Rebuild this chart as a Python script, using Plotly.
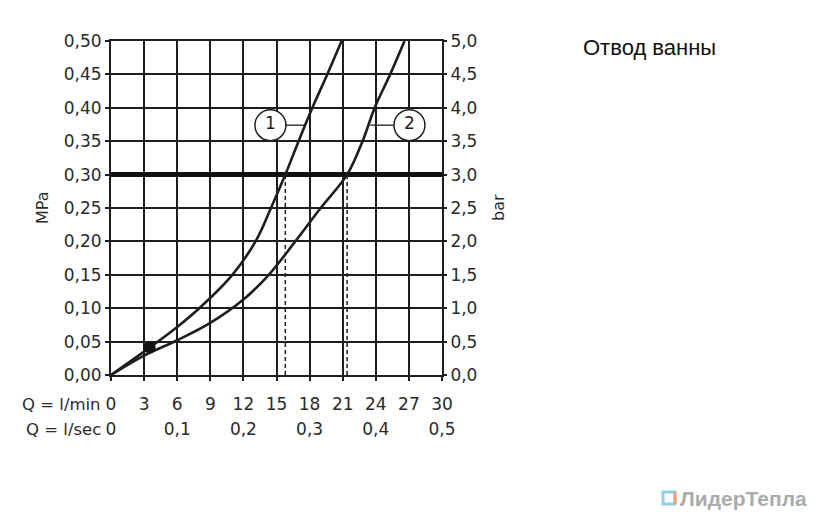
import plotly.graph_objects as go

# ---- data ----
q_lmin_ticks = [0, 3, 6, 9, 12, 15, 18, 21, 24, 27, 30]
q_lsec_ticks = [0, 0.1, 0.2, 0.3, 0.4, 0.5]
q_lsec_labels = ["0", "0,1", "0,2", "0,3", "0,4", "0,5"]
mpa_ticks = [0, 0.05, 0.10, 0.15, 0.20, 0.25, 0.30, 0.35, 0.40, 0.45, 0.50]
bar_ticks = [0, 0.5, 1.0, 1.5, 2.0, 2.5, 3.0, 3.5, 4.0, 4.5, 5.0]

curve1_q = [0, 3.5, 6.0, 8.0, 11.0, 13.1, 14.5, 15.8, 17.0, 18.25, 19.6, 20.9]
curve1_p = [0, 0.041, 0.072, 0.100, 0.150, 0.200, 0.250, 0.300, 0.350, 0.400, 0.450, 0.500]

curve2_q = [0, 3.0, 6.0, 9.0, 12.0, 14.3, 16.7, 19.0, 21.4, 22.8, 23.9, 25.3, 26.6]
curve2_p = [0, 0.029, 0.052, 0.078, 0.113, 0.150, 0.200, 0.250, 0.300, 0.350, 0.400, 0.450, 0.500]

ref_pressure = 0.30
ref_flows = [15.8, 21.4]
dot_q, dot_p = [3.5], [0.041]

label_names = ["1", "2"]
label_q = [14.45, 27.05]
label_p = [0.374, 0.374]
leader1_q = [15.8, 17.6]
leader2_q = [23.5, 25.6]

title_text = "Отвод ванны"
watermark = "ЛидерТепла"

# ---- figure ----
INK = "#1e1e1e"
FONT = "DejaVu Sans"
fig = go.Figure()

# thick reference line
fig.add_trace(go.Scatter(x=[0, 30], y=[ref_pressure, ref_pressure], mode="lines",
                         line=dict(color="#111", width=5), hoverinfo="skip", showlegend=False))
# dashed drop lines
for fq in ref_flows:
    fig.add_trace(go.Scatter(x=[fq, fq], y=[0, ref_pressure], mode="lines",
                             line=dict(color=INK, width=1.5, dash="4px,3px"),
                             hoverinfo="skip", showlegend=False))
# curves
fig.add_trace(go.Scatter(x=curve1_q, y=curve1_p, mode="lines",
                         line=dict(color=INK, width=2.6, shape="spline", smoothing=1.0),
                         showlegend=False))
fig.add_trace(go.Scatter(x=curve2_q, y=curve2_p, mode="lines",
                         line=dict(color=INK, width=2.6, shape="spline", smoothing=1.0),
                         showlegend=False))
# leader lines
fig.add_trace(go.Scatter(x=leader1_q, y=[label_p[0]] * 2, mode="lines",
                         line=dict(color=INK, width=1.3), showlegend=False, hoverinfo="skip"))
fig.add_trace(go.Scatter(x=leader2_q, y=[label_p[1]] * 2, mode="lines",
                         line=dict(color=INK, width=1.3), showlegend=False, hoverinfo="skip"))
# dot
fig.add_trace(go.Scatter(x=dot_q, y=dot_p, mode="markers",
                         marker=dict(color="#111", size=12, symbol="circle"), showlegend=False))
# circled labels
fig.add_trace(go.Scatter(x=label_q, y=label_p, mode="markers+text", text=label_names,
                         textposition="middle center",
                         textfont=dict(family=FONT, size=17, color=INK),
                         marker=dict(size=31, color="white", line=dict(color=INK, width=1.5)),
                         showlegend=False, cliponaxis=False))
# invisible traces to activate secondary axes
fig.add_trace(go.Scatter(x=[0, 0.5], y=[0, 0.5], xaxis="x2", yaxis="y", mode="markers",
                         marker=dict(opacity=0), showlegend=False, hoverinfo="skip"))
fig.add_trace(go.Scatter(x=[0, 30], y=[0, 5], xaxis="x", yaxis="y2", mode="markers",
                         marker=dict(opacity=0), showlegend=False, hoverinfo="skip"))

tickfont = dict(family=FONT, size=17, color="#2a2a2a")
axcommon = dict(showgrid=True, gridcolor=INK, gridwidth=1.7, zeroline=False,
                showline=True, linecolor=INK, linewidth=2, ticks="outside",
                ticklen=4, tickwidth=1.6, tickcolor=INK, tickfont=tickfont,
                automargin=False)

fig.update_layout(
    width=832, height=530,
    margin=dict(l=111, r=390, t=41, b=155),
    paper_bgcolor="white", plot_bgcolor="white",
    separators=",.",
    showlegend=False,
    xaxis=dict(range=[0, 30], tickvals=q_lmin_ticks, mirror=True, ticklabelstandoff=9,
               **axcommon),
    yaxis=dict(range=[0, 0.5], tickvals=mpa_ticks, tickformat=".2f", mirror=True, **axcommon),
    xaxis2=dict(range=[0, 0.5], overlaying="x", side="bottom", anchor="y",
                tickvals=q_lsec_ticks, ticktext=q_lsec_labels, showgrid=False,
                showline=False, zeroline=False, ticks="", tickfont=tickfont,
                ticklabelstandoff=42, automargin=False),
    yaxis2=dict(range=[0, 5], overlaying="y", side="right", anchor="x",
                tickvals=bar_ticks, tickformat=".1f", showgrid=False, zeroline=False,
                showline=False, ticks="outside", ticklen=4, tickwidth=1.6, tickcolor=INK,
                tickfont=tickfont, automargin=False),
)

annos = [
    dict(text="MPa", xref="paper", yref="paper", x=0, y=0.5, xshift=-69, textangle=-90,
         showarrow=False, font=dict(family=FONT, size=16, color="#2a2a2a"),
         xanchor="center", yanchor="middle"),
    dict(text="bar", xref="paper", yref="paper", x=1, y=0.5, xshift=56, textangle=-90,
         showarrow=False, font=dict(family=FONT, size=16, color="#2a2a2a"),
         xanchor="center", yanchor="middle"),
    dict(text="Q = l/min", xref="paper", yref="paper", x=0, y=0, xshift=-8, yshift=-29,
         showarrow=False, font=dict(family=FONT, size=16.5, color="#2a2a2a"),
         xanchor="right", yanchor="middle"),
    dict(text="Q = l/sec", xref="paper", yref="paper", x=0, y=0, xshift=-8, yshift=-54,
         showarrow=False, font=dict(family=FONT, size=16.5, color="#2a2a2a"),
         xanchor="right", yanchor="middle"),
    dict(text=title_text, xref="paper", yref="paper", x=1, y=1, xshift=139, yshift=-6,
         showarrow=False, font=dict(family="Liberation Sans", size=22, color="#111"),
         xanchor="left", yanchor="middle"),
    dict(text="<b>" + watermark + "</b>", xref="paper", yref="paper", x=1, y=0, xshift=236,
         yshift=-123, showarrow=False, font=dict(family="Liberation Sans", size=21, color="#ababab"),
         xanchor="left", yanchor="middle"),
]
fig.update_layout(annotations=annos)

# watermark icon
fig.add_shape(type="rect", xref="paper", yref="paper",
              xsizemode="pixel", ysizemode="pixel", xanchor=1, yanchor=0,
              x0=221, x1=233, y0=-129, y1=-117,
              line=dict(color="#8fd0ea", width=3), fillcolor="white", layer="above")
fig.add_shape(type="line", xref="paper", yref="paper",
              xsizemode="pixel", ysizemode="pixel", xanchor=1, yanchor=0,
              x0=233, x1=233, y0=-129, y1=-117,
              line=dict(color="#f0a070", width=3), layer="above")

fig.write_html("out.html", config={"displayModeBar": False},
               post_script="document.body.style.margin='0';document.body.style.padding='0';")
